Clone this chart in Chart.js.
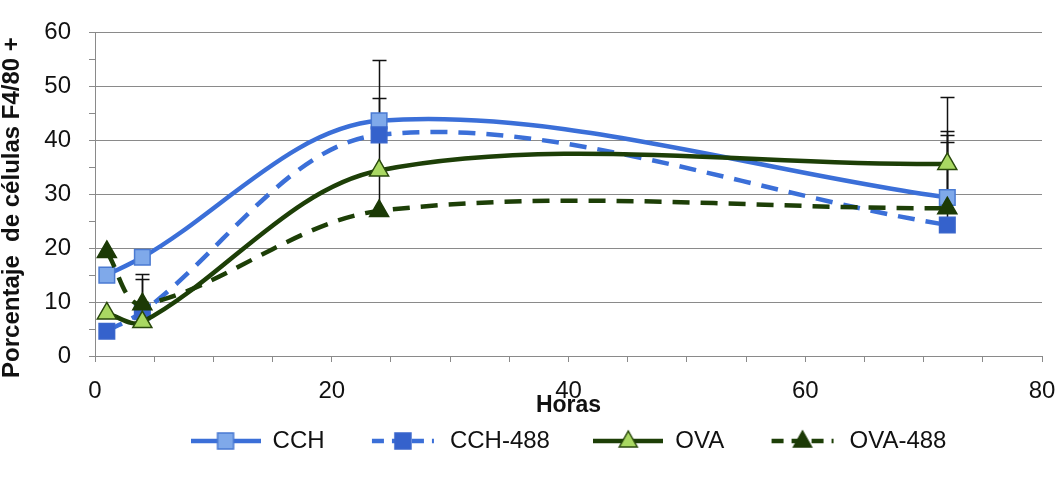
<!DOCTYPE html>
<html><head><meta charset="utf-8">
<script src="https://cdn.jsdelivr.net/npm/chart.js@4"></script>
<style>html,body{margin:0;padding:0;background:#fff}</style>
</head><body>
<canvas id="c" width="1062" height="481"></canvas>
<script>
// ---- data ----
const hours = [1, 4, 24, 72];
const seriesNames = ['CCH', 'CCH-488', 'OVA', 'OVA-488'];
const cchValues = [15.0, 18.3, 43.6, 29.4];
const cch488Values = [4.6, 8.2, 41.0, 24.3];
const ovaValues = [7.9, 6.3, 34.4, 35.6];
const ova488Values = [19.3, 9.6, 26.9, 27.4];
const cchErrors = [0, 0, 11.2, 12.4];
const cch488Errors = [0, 6.1, 6.9, 16.7];
const ovaErrors = [0, 0, 6.0, 12.4];
const ova488Errors = [0, 5.6, 7.5, 12.2];
const xTickLabels = [0, 20, 40, 60, 80];
const yTickLabels = [0, 10, 20, 30, 40, 50, 60];
const xAxisTitle = 'Horas';
const yAxisTitle = 'Porcentaje  de células F4/80 +';

// ---- styles ----
const BLUE = '#3b6fd8';
const GREEN = '#1d3f07';
const styles = [
  {line: BLUE, dash: [], point: 'rect', fill: '#7fa9ea', border: '#4a7ad2', radius: 11},
  {line: BLUE, dash: [17, 11], point: 'rect', fill: '#3562cc', border: '#3a66cc', radius: 11},
  {line: GREEN, dash: [], point: 'triangle', fill: '#a9d862', border: '#2a4a0c', radius: 11},
  {line: GREEN, dash: [17, 11], point: 'triangle', fill: '#1c3a06', border: '#1c3a06', radius: 11}
];
const valueSets = [cchValues, cch488Values, ovaValues, ova488Values];
const errorSets = [cchErrors, cch488Errors, ovaErrors, ova488Errors];

function legendImage(st) {
  const w = 70, h = 26;
  const cv = document.createElement('canvas');
  cv.width = w; cv.height = h;
  const c = cv.getContext('2d');
  c.strokeStyle = st.line; c.lineWidth = 4.5; c.lineCap = 'butt';
  if (st.dash.length) {
    c.setLineDash([12, 8]);
    c.beginPath(); c.moveTo(4, h / 2); c.lineTo(w - 4, h / 2); c.stroke();
    c.setLineDash([]);
  } else {
    c.beginPath(); c.moveTo(0, h / 2); c.lineTo(w, h / 2); c.stroke();
  }
  c.fillStyle = st.fill; c.strokeStyle = st.border; c.lineWidth = 1.5;
  const cx = w / 2, cy = h / 2;
  c.beginPath();
  if (st.point === 'rect') {
    c.rect(cx - 8, cy - 8, 16, 16);
  } else {
    c.moveTo(cx, cy - 10); c.lineTo(cx + 9, cy + 6); c.lineTo(cx - 9, cy + 6); c.closePath();
  }
  c.fill(); c.stroke();
  return cv;
}
const legendImages = styles.map(legendImage);

const datasets = seriesNames.map((name, i) => ({
  label: name,
  data: hours.map((h, j) => ({x: h, y: valueSets[i][j]})),
  errors: errorSets[i],
  borderColor: styles[i].line,
  borderWidth: 4.5,
  borderDash: styles[i].dash,
  pointStyle: styles[i].point,
  pointRadius: styles[i].radius,
  pointHoverRadius: styles[i].radius,
  pointBackgroundColor: styles[i].fill,
  pointBorderColor: styles[i].border,
  pointBorderWidth: 1.5,
  tension: 0.33,
  fill: false,
  order: seriesNames.length - 1 - i
}));

const errorBarPlugin = {
  id: 'errorBars',
  beforeDatasetsDraw(chart) {
    const {ctx, scales: {x, y}} = chart;
    ctx.save();
    ctx.strokeStyle = '#111';
    ctx.lineWidth = 1.5;
    chart.data.datasets.forEach(ds => {
      ds.data.forEach((pt, j) => {
        const e = ds.errors[j];
        if (!e) return;
        const px = Math.round(x.getPixelForValue(pt.x)) + 0.5;
        const y0 = y.getPixelForValue(pt.y);
        const y1 = Math.round(y.getPixelForValue(pt.y + e)) + 0.5;
        ctx.beginPath();
        ctx.moveTo(px, y0); ctx.lineTo(px, y1);
        ctx.moveTo(px - 7, y1); ctx.lineTo(px + 7, y1);
        ctx.stroke();
      });
    });
    ctx.restore();
  }
};

new Chart(document.getElementById('c'), {
  type: 'line',
  data: {datasets},
  plugins: [errorBarPlugin],
  options: {
    responsive: false,
    animation: false,
    devicePixelRatio: 1,
    layout: {padding: {top: 28, right: 20, bottom: 18, left: 0}},
    plugins: {
      tooltip: {enabled: false},
      legend: {
        position: 'bottom',
        fullSize: false,
        labels: {
          usePointStyle: true,
          pointStyleWidth: 70,
          boxHeight: 24,
          padding: 10,
          color: '#111',
          font: {family: 'Liberation Sans, Arial, sans-serif', size: 24},
          sort: (a, b) => a.datasetIndex - b.datasetIndex,
          generateLabels(chart) {
            const items = Chart.defaults.plugins.legend.labels.generateLabels(chart);
            return items.map(it => {
              const i = it.datasetIndex;
              it.pointStyle = legendImages[i];
              it.text = seriesNames[i] + (i < seriesNames.length - 1 ? '     ' : '');
              return it;
            });
          }
        }
      }
    },
    scales: {
      x: {
        type: 'linear',
        min: 0, max: 80,
        afterFit(s) { s.height = 63; s.paddingRight = 0; s.paddingLeft = 0; },
        border: {color: '#8a8a8a', width: 1},
        grid: {drawOnChartArea: false, drawTicks: true, tickLength: 6, color: '#8a8a8a'},
        ticks: {
          stepSize: 5, autoSkip: false, maxRotation: 0, padding: 15,
          color: '#111',
          font: {family: 'Liberation Sans, Arial, sans-serif', size: 24},
          callback: v => xTickLabels.includes(v) ? String(v) : ''
        },
        title: {
          display: true, text: xAxisTitle, color: '#111',
          font: {family: 'Liberation Sans, Arial, sans-serif', size: 23, weight: 'bold', lineHeight: 1},
          padding: {top: 0, bottom: 2}
        }
      },
      y: {
        min: 0, max: 60,
        afterFit(s) { s.width = 95; },
        border: {color: '#8a8a8a', width: 1},
        grid: {
          drawTicks: true, tickLength: 6,
          color: ctx => (ctx.tick && ctx.tick.value % 10 === 0 && ctx.tick.value !== 0) ? '#8a8a8a' : 'rgba(0,0,0,0)',
          tickColor: '#8a8a8a'
        },
        ticks: {
          stepSize: 5, autoSkip: false, padding: 18,
          color: '#111',
          font: {family: 'Liberation Sans, Arial, sans-serif', size: 24},
          callback: v => yTickLabels.includes(v) ? String(v) : ''
        },
        title: {
          display: true, text: yAxisTitle + '    ', color: '#111',
          font: {family: 'Liberation Sans, Arial, sans-serif', size: 24, weight: 'bold', lineHeight: 1},
          padding: {top: 0, bottom: 0}
        }
      }
    }
  }
});
</script>
</body></html>
